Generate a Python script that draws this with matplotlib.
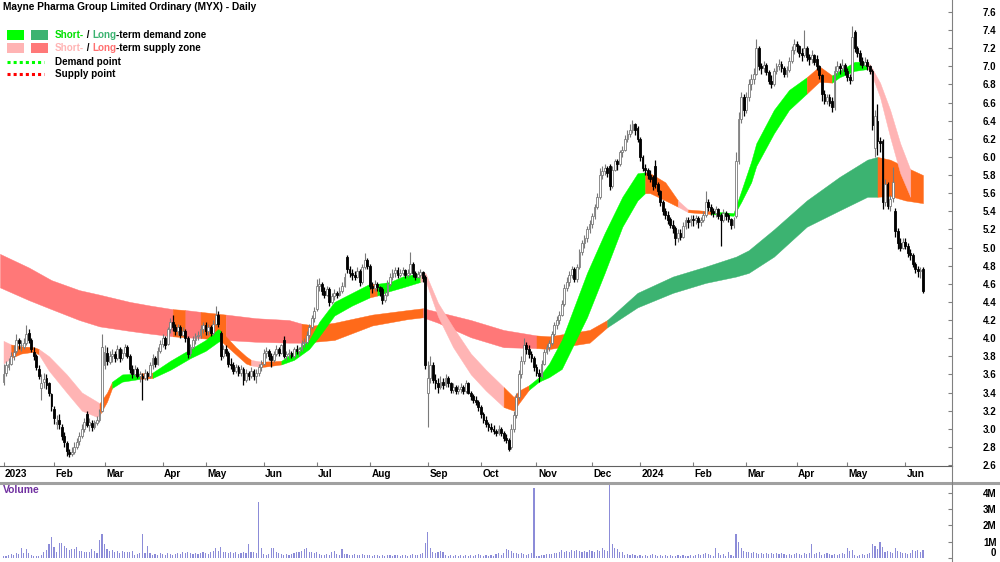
import numpy as np
import pandas as pd
import matplotlib
matplotlib.use("Agg")
import matplotlib.pyplot as plt
from matplotlib.lines import Line2D
from matplotlib.patches import Rectangle

plt.rcParams['font.family'] = ['Liberation Sans', 'DejaVu Sans']
plt.rcParams['font.weight'] = 'bold'

# ---------------- data ----------------
TITLE = "Mayne Pharma Group Limited Ordinary (MYX) - Daily"
START, END = "2023-01-03", "2024-06-13"
HOLIDAYS = ['2023-01-26', '2023-04-07', '2023-04-10', '2023-04-25', '2023-06-12',
            '2023-12-25', '2023-12-26', '2024-01-01', '2024-01-26', '2024-03-29',
            '2024-04-01', '2024-04-25', '2024-06-10']
MONTH_LABELS = {1: None, 2: 'Feb', 3: 'Mar', 4: 'Apr', 5: 'May', 6: 'Jun', 7: 'Jul',
                8: 'Aug', 9: 'Sep', 10: 'Oct', 11: 'Nov', 12: 'Dec'}

OPEN = [
 3.52,3.62,3.68,3.72,3.80,3.86,3.98,3.92,3.90,3.95,4.06,3.98,3.85,3.80,3.66,3.45,3.52,3.56,3.50,3.38,
 3.22,3.05,3.10,3.02,2.92,2.84,2.74,2.72,2.74,2.80,2.86,2.92,3.00,3.16,3.04,3.06,3.02,3.06,3.10,3.20,
 3.70,3.84,3.74,3.80,3.82,3.78,3.88,3.78,3.84,3.90,3.80,3.66,3.60,3.66,3.58,3.58,3.56,3.62,3.58,3.70,3.78,3.72,3.86,
 3.94,4.00,3.94,4.10,4.18,4.12,4.08,4.12,4.04,4.08,4.00,3.84,3.90,3.98,4.02,4.04,4.10,
 4.14,4.08,4.12,4.06,4.16,4.26,4.06,3.80,3.88,3.84,3.72,3.70,3.64,3.68,3.62,3.66,3.54,3.62,3.58,3.64,3.58,3.62,3.68,
 3.72,3.84,3.86,3.80,3.76,3.82,3.88,3.84,3.98,3.80,3.82,3.84,3.80,3.88,3.86,3.88,3.95,3.96,4.04,4.12,4.22,
 4.32,4.58,4.60,4.52,4.48,4.54,4.40,4.46,4.50,4.48,4.52,4.58,4.90,4.76,4.72,4.70,4.68,4.74,4.62,4.78,4.86,
 4.80,4.58,4.55,4.60,4.56,4.54,4.42,4.48,4.60,4.68,4.72,4.75,4.70,4.72,4.75,4.70,4.72,4.82,4.72,4.68,4.70,4.73,4.68,
 3.40,3.56,3.70,3.54,3.50,3.46,3.52,3.48,3.56,3.50,3.43,3.46,3.42,3.44,3.46,3.42,3.50,3.40,3.36,3.32,3.30,
 3.24,3.16,3.10,3.05,3.02,3.00,2.97,2.95,3.00,2.95,2.90,2.88,2.80,3.00,3.15,3.35,3.60,3.75,3.92,3.88,3.82,3.78,
 3.68,3.62,3.58,3.72,3.85,3.90,3.95,4.05,4.15,4.20,4.26,4.38,4.55,4.62,4.70,4.76,4.65,4.78,4.95,5.05,5.10,5.20,
 5.26,5.35,5.45,5.56,5.80,5.85,5.88,5.90,5.68,5.86,5.95,5.92,6.05,6.08,6.20,6.25,6.30,6.36,6.32,
 6.20,6.00,5.88,5.86,5.80,5.78,5.90,5.70,5.62,5.50,5.40,5.36,5.32,5.25,5.22,5.10,5.16,5.12,5.24,5.30,5.28,
 5.32,5.30,5.33,5.28,5.30,5.36,5.50,5.45,5.40,5.38,5.42,5.36,5.30,5.38,5.36,5.31,5.25,5.35,5.95,6.42,6.66,
 6.52,6.66,6.80,6.86,6.92,7.20,7.00,6.98,7.02,6.94,6.84,6.80,6.95,7.00,7.03,6.98,6.92,6.96,7.06,7.18,
 7.25,7.22,7.15,7.12,7.20,7.10,7.08,7.12,7.08,7.00,6.90,6.70,6.62,6.66,6.62,6.55,6.95,7.00,6.98,7.02,
 6.95,6.88,6.85,7.38,7.20,7.15,7.06,7.02,7.05,7.00,6.95,6.10,6.40,6.18,6.18,5.50,5.70,5.46,5.55,5.40,5.18,5.05,5.00,
 5.06,5.02,4.94,4.92,4.82,4.76,4.74,4.76]
HIGH = [
 3.72,3.75,3.78,3.85,3.92,4.05,4.00,3.98,4.00,4.15,4.10,4.00,3.90,3.82,3.70,3.60,3.62,3.60,3.52,3.40,
 3.25,3.15,3.16,3.05,2.96,2.86,2.78,2.80,2.85,2.90,2.96,3.05,3.12,3.20,3.12,3.10,3.10,3.14,3.22,4.05,
 3.92,3.90,3.86,3.88,3.86,3.92,3.90,3.88,3.94,3.92,3.82,3.70,3.70,3.68,3.64,3.62,3.66,3.64,3.74,3.82,3.80,3.90,3.98,
 4.05,4.02,4.12,4.22,4.25,4.16,4.16,4.14,4.12,4.10,4.02,3.94,4.02,4.06,4.08,4.14,4.18,
 4.18,4.16,4.14,4.20,4.35,4.30,4.08,3.92,3.92,3.86,3.78,3.74,3.72,3.70,3.70,3.68,3.66,3.64,3.68,3.66,3.66,3.72,3.76,
 3.88,3.90,3.88,3.84,3.86,3.92,3.90,3.94,4.02,3.86,3.88,3.86,3.90,3.92,3.90,3.98,4.00,4.08,4.16,4.26,4.34,
 4.65,4.66,4.62,4.56,4.58,4.56,4.50,4.54,4.52,4.56,4.62,4.72,4.92,4.80,4.76,4.74,4.78,4.76,4.82,4.94,4.88,
 4.82,4.62,4.64,4.62,4.58,4.56,4.52,4.64,4.72,4.76,4.78,4.78,4.76,4.78,4.76,4.76,4.95,4.84,4.74,4.74,4.76,4.74,4.70,
 3.75,3.80,3.74,3.60,3.56,3.58,3.56,3.60,3.58,3.52,3.50,3.48,3.48,3.50,3.48,3.54,3.52,3.42,3.38,3.36,3.32,
 3.26,3.18,3.14,3.08,3.06,3.04,3.00,3.04,3.02,2.97,2.94,2.90,3.05,3.20,3.40,3.65,3.80,4.00,3.96,3.92,3.86,3.80,
 3.72,3.66,3.76,3.88,3.94,3.98,4.08,4.18,4.24,4.30,4.42,4.60,4.68,4.74,4.80,4.78,4.82,4.98,5.08,5.14,5.24,5.30,
 5.38,5.48,5.60,5.88,5.90,5.92,5.90,5.92,5.90,5.98,5.98,6.08,6.12,6.24,6.30,6.36,6.41,6.38,6.34,
 6.22,6.02,5.92,5.88,5.86,5.80,5.97,5.72,5.64,5.52,5.44,5.40,5.34,5.30,5.24,5.20,5.20,5.28,5.34,5.34,5.36,
 5.36,5.36,5.35,5.34,5.40,5.62,5.54,5.48,5.44,5.46,5.44,5.38,5.42,5.40,5.38,5.33,5.34,6.05,6.50,6.72,6.70,
 6.72,6.86,6.92,6.98,7.30,7.22,7.04,7.06,7.04,6.96,6.90,6.98,7.04,7.08,7.06,7.00,7.00,7.10,7.22,7.30,
 7.28,7.24,7.20,7.40,7.22,7.14,7.18,7.14,7.12,7.02,6.92,6.74,6.70,6.70,6.66,7.00,7.06,7.04,7.08,7.04,
 6.98,6.92,7.45,7.40,7.22,7.18,7.10,7.10,7.08,7.02,6.97,6.52,6.58,6.22,6.20,5.76,5.72,5.58,5.89,5.44,5.22,5.10,5.10,
 5.10,5.05,4.98,4.94,4.84,4.80,4.78,4.78]
LOW = [
 3.48,3.58,3.65,3.70,3.76,3.84,3.88,3.86,3.88,3.92,3.95,3.85,3.76,3.65,3.55,3.32,3.45,3.44,3.36,3.20,
 3.05,3.00,3.00,2.88,2.80,2.70,2.69,2.70,2.72,2.78,2.82,2.90,2.96,3.02,2.98,2.98,3.00,3.04,3.08,3.18,
 3.66,3.70,3.72,3.74,3.74,3.76,3.74,3.76,3.80,3.78,3.62,3.56,3.58,3.56,3.52,3.32,3.54,3.54,3.56,3.66,3.68,3.70,3.84,
 3.90,3.88,3.92,4.06,4.08,4.04,4.04,4.00,4.02,3.96,3.78,3.80,3.88,3.94,3.98,4.00,4.06,
 4.04,4.04,4.02,4.04,4.14,4.12,3.76,3.78,3.80,3.68,3.66,3.60,3.62,3.58,3.58,3.48,3.52,3.54,3.56,3.54,3.50,3.58,3.64,
 3.70,3.78,3.76,3.68,3.74,3.80,3.80,3.82,3.78,3.76,3.78,3.78,3.78,3.82,3.80,3.86,3.90,3.94,4.00,4.10,4.18,
 4.30,4.52,4.48,4.44,4.46,4.36,4.38,4.42,4.44,4.46,4.50,4.56,4.72,4.68,4.64,4.64,4.66,4.58,4.60,4.76,4.76,
 4.54,4.50,4.52,4.52,4.46,4.38,4.40,4.46,4.58,4.64,4.68,4.66,4.68,4.70,4.66,4.68,4.70,4.68,4.64,4.66,4.68,4.62,3.66,
 3.02,3.50,3.50,3.44,3.40,3.44,3.44,3.46,3.46,3.40,3.40,3.38,3.38,3.40,3.38,3.40,3.38,3.32,3.28,3.26,3.20,
 3.12,3.06,3.02,2.98,2.96,2.94,2.92,2.93,2.92,2.86,2.84,2.75,2.78,2.96,3.12,3.32,3.56,3.72,3.82,3.78,3.74,3.64,
 3.58,3.52,3.56,3.70,3.82,3.86,3.92,4.02,4.10,4.16,4.24,4.36,4.52,4.58,4.66,4.62,4.62,4.76,4.92,5.00,5.06,5.16,
 5.22,5.32,5.42,5.54,5.76,5.80,5.78,5.64,5.66,5.84,5.86,5.90,6.00,6.06,6.16,6.22,6.26,6.24,6.16,
 5.96,5.84,5.80,5.76,5.72,5.64,5.66,5.58,5.46,5.36,5.32,5.26,5.22,5.16,5.03,5.06,5.08,5.10,5.20,5.22,5.24,
 5.24,5.26,5.22,5.24,5.28,5.34,5.40,5.36,5.34,5.34,5.32,5.02,5.28,5.30,5.28,5.20,5.22,5.33,5.92,6.38,6.45,
 6.48,6.62,6.74,6.80,6.90,6.96,6.92,6.94,6.90,6.80,6.76,6.78,6.92,6.96,6.94,6.88,6.88,6.94,7.04,7.14,
 7.16,7.10,7.06,7.10,7.06,7.02,7.04,7.02,6.96,6.86,6.62,6.58,6.58,6.56,6.50,6.52,6.90,6.92,6.94,6.90,
 6.84,6.80,6.84,7.16,7.10,7.02,6.98,7.00,6.96,6.92,6.30,6.00,6.02,6.05,5.42,5.46,5.42,5.40,5.50,5.12,4.98,4.96,4.98,
 4.98,4.90,4.86,4.78,4.72,4.68,4.66,4.50]
CLOSE = [
 3.60,3.70,3.72,3.80,3.85,3.98,3.95,3.92,3.95,4.05,3.98,3.88,3.80,3.68,3.58,3.50,3.55,3.48,3.40,3.25,
 3.12,3.08,3.05,2.92,2.85,2.75,2.72,2.74,2.80,2.85,2.92,3.00,3.08,3.04,3.08,3.02,3.08,3.10,3.18,3.90,
 3.85,3.75,3.80,3.82,3.78,3.88,3.78,3.84,3.90,3.80,3.66,3.60,3.66,3.58,3.60,3.56,3.62,3.58,3.70,3.78,3.72,3.86,3.94,
 4.00,3.92,4.10,4.18,4.12,4.08,4.12,4.04,4.08,4.00,3.82,3.90,3.98,4.02,4.04,4.10,4.14,
 4.08,4.12,4.06,4.16,4.26,4.16,3.80,3.88,3.84,3.72,3.70,3.64,3.68,3.62,3.66,3.54,3.62,3.58,3.64,3.58,3.62,3.68,3.72,
 3.84,3.86,3.80,3.76,3.82,3.88,3.84,3.92,3.80,3.82,3.84,3.80,3.88,3.86,3.88,3.95,3.96,4.04,4.12,4.22,4.30,
 4.58,4.60,4.52,4.48,4.54,4.40,4.46,4.50,4.48,4.52,4.58,4.68,4.76,4.72,4.70,4.68,4.74,4.62,4.78,4.86,4.80,
 4.58,4.55,4.60,4.56,4.52,4.42,4.48,4.60,4.68,4.72,4.75,4.70,4.72,4.75,4.70,4.72,4.82,4.72,4.68,4.71,4.73,4.66,3.70,
 3.56,3.70,3.54,3.50,3.46,3.52,3.48,3.56,3.50,3.43,3.46,3.42,3.44,3.46,3.42,3.50,3.40,3.36,3.32,3.30,3.24,
 3.16,3.10,3.05,3.02,3.00,2.97,2.95,3.00,2.95,2.90,2.88,2.78,3.00,3.15,3.35,3.60,3.75,3.92,3.88,3.82,3.78,3.68,
 3.62,3.58,3.72,3.85,3.90,3.95,4.05,4.15,4.20,4.26,4.38,4.55,4.62,4.70,4.76,4.65,4.78,4.95,5.05,5.10,5.20,5.26,
 5.35,5.45,5.56,5.80,5.85,5.88,5.82,5.68,5.86,5.95,5.92,6.05,6.08,6.20,6.25,6.30,6.36,6.30,6.20,
 6.00,5.88,5.86,5.80,5.76,5.68,5.70,5.62,5.50,5.40,5.36,5.30,5.25,5.22,5.10,5.16,5.12,5.24,5.30,5.28,5.32,
 5.30,5.33,5.28,5.30,5.36,5.50,5.45,5.40,5.38,5.42,5.35,5.30,5.38,5.35,5.31,5.25,5.30,5.95,6.42,6.66,6.52,
 6.66,6.80,6.86,6.92,7.20,7.00,6.98,7.02,6.94,6.84,6.80,6.95,7.00,7.03,6.98,6.92,6.96,7.06,7.18,7.25,
 7.22,7.15,7.12,7.20,7.10,7.08,7.12,7.05,7.00,6.90,6.70,6.62,6.66,6.60,6.55,6.95,7.00,6.98,7.02,6.95,
 6.88,6.85,7.32,7.20,7.15,7.06,7.02,7.05,7.00,6.95,6.35,6.45,6.18,6.15,5.50,5.70,5.46,5.54,5.72,5.18,5.05,5.00,5.06,
 5.02,4.94,4.92,4.82,4.76,4.74,4.75,4.52]
VOLUME_M = [
 0.10,0.15,0.20,0.25,0.20,0.30,0.25,0.60,0.30,0.55,0.30,0.20,0.15,0.10,0.15,0.20,0.40,0.50,0.85,1.27,
 0.65,0.40,0.90,0.90,0.75,0.60,0.50,0.55,0.55,0.65,0.45,0.45,0.40,0.40,0.35,0.55,0.45,0.30,1.10,1.50,
 0.85,0.55,0.45,0.50,0.40,0.45,0.30,0.45,0.35,0.35,0.40,0.45,0.20,0.25,0.30,1.50,0.30,0.75,0.30,0.20,0.25,0.20,0.30,
 0.25,0.20,0.30,0.25,0.20,0.25,0.30,0.25,0.35,0.30,0.35,0.30,0.25,0.30,0.25,0.30,0.35,
 0.30,0.25,0.35,0.45,0.60,0.45,0.65,0.40,0.35,0.30,0.40,0.30,0.35,0.25,0.30,0.35,0.30,0.85,0.40,0.35,0.30,3.40,0.60,
 0.25,0.20,0.25,0.60,0.60,0.40,0.30,0.25,0.20,0.25,0.20,0.25,0.30,0.35,0.40,0.45,0.55,0.60,0.40,0.35,0.30,
 0.35,0.25,0.20,0.20,0.25,0.20,0.35,0.45,0.25,0.20,0.55,0.25,0.25,0.20,0.20,0.25,0.20,0.20,0.25,0.20,0.20,
 0.20,0.15,0.20,0.20,0.15,0.20,0.15,0.20,0.20,0.15,0.20,0.20,0.15,0.20,0.20,0.15,0.20,0.25,0.20,0.20,0.25,0.30,0.95,
 1.60,0.60,0.40,0.30,0.35,0.45,0.40,0.20,0.15,0.20,0.15,0.20,0.15,0.20,0.15,0.20,0.15,0.20,0.15,0.20,0.25,
 0.20,0.15,0.20,0.15,0.20,0.15,0.25,0.30,0.20,0.30,0.55,0.50,0.45,0.30,0.30,0.25,0.30,0.25,0.20,0.25,0.30,4.30,
 0.15,0.15,0.20,0.20,0.25,0.25,0.25,0.30,0.30,0.35,0.50,0.40,0.45,0.40,0.50,0.45,0.50,0.45,0.40,0.45,0.40,0.50,
 0.45,0.40,0.50,0.45,0.60,0.50,0.45,4.45,0.85,0.60,0.55,0.40,0.35,0.20,0.25,0.20,0.25,0.20,0.15,
 0.20,0.15,0.20,0.15,0.20,0.25,0.20,0.15,0.20,0.15,0.20,0.15,0.20,0.15,0.15,0.20,0.15,0.20,0.15,0.15,0.20,
 0.15,0.20,0.25,0.20,0.25,0.30,0.25,0.20,0.15,0.60,0.30,0.20,0.25,0.15,0.35,0.20,0.15,1.50,1.00,0.60,0.45,
 0.40,0.35,0.30,0.35,0.30,0.25,0.30,0.25,0.30,0.25,0.30,0.25,0.30,0.25,0.30,0.25,0.20,0.25,0.20,0.25,
 0.30,0.25,0.20,0.30,0.25,0.30,0.85,0.25,0.30,0.35,0.20,0.25,0.30,0.25,0.20,0.25,0.20,0.25,0.30,0.25,
 0.60,0.45,0.50,0.20,0.15,0.20,0.25,0.20,0.25,0.30,0.85,0.75,0.55,1.00,0.70,0.40,0.45,0.35,0.30,0.60,0.45,0.35,0.30,
 0.30,0.25,0.30,0.50,0.45,0.50,0.35,0.50]

# short-term zone: bar index, upper edge, lower edge, colour code of the stretch that follows
ST_IDX = [0, 3, 7, 12, 14, 18, 25, 31, 37, 38, 41, 43, 47, 54, 59, 66, 74, 80, 85, 86, 92, 96, 98, 102,
          110, 115, 121, 125, 131, 138, 145, 148, 153, 158, 165, 167, 172, 178, 185, 191, 198, 202, 204,
          208, 212, 216, 221, 231, 238, 245, 251, 254, 256, 262, 267, 271, 280, 289, 292, 296, 298, 305,
          311, 318, 323, 328, 331, 337, 342, 343, 347, 351, 355, 359, 364]
ST_HI = [3.97, 3.93, 3.91, 3.90, 3.88, 3.80, 3.60, 3.40, 3.30, 3.28, 3.40, 3.52, 3.60, 3.61, 3.62, 3.75,
         3.88, 3.98, 4.10, 4.08, 3.90, 3.80, 3.76, 3.74, 3.75, 3.85, 3.98, 4.18, 4.40, 4.50, 4.60, 4.60,
         4.62, 4.68, 4.72, 4.72, 4.39, 4.12, 3.83, 3.65, 3.46, 3.35, 3.42, 3.48, 3.57, 3.72, 3.98, 4.72,
         5.16, 5.56, 5.82, 5.83, 5.82, 5.72, 5.52, 5.42, 5.40, 5.38, 5.62, 5.95, 6.15, 6.52, 6.74, 6.88,
         7.00, 6.90, 6.95, 7.05, 7.05, 7.02, 6.82, 6.52, 6.15, 5.86, 5.67]
ST_LO = [3.72, 3.78, 3.83, 3.85, 3.82, 3.64, 3.40, 3.20, 3.13, 3.15, 3.30, 3.45, 3.52, 3.55, 3.56, 3.65,
         3.78, 3.86, 3.96, 3.97, 3.82, 3.72, 3.70, 3.68, 3.71, 3.76, 3.88, 4.02, 4.25, 4.36, 4.45, 4.47,
         4.52, 4.56, 4.62, 4.64, 4.24, 3.90, 3.60, 3.42, 3.24, 3.20, 3.28, 3.43, 3.52, 3.57, 3.66, 4.23,
         4.72, 5.23, 5.52, 5.60, 5.60, 5.52, 5.45, 5.39, 5.37, 5.35, 5.50, 5.72, 5.90, 6.26, 6.52, 6.70,
         6.83, 6.82, 6.88, 6.95, 6.97, 6.96, 6.66, 6.22, 5.82, 5.56, 5.27]
ST_COL = "POOOPPPPPOOGGOGGGGGOOOPOGGGGGGOGGGPPPPPPOOOGGGGGGGGOOOPOGGGGGGGOOGGGPPPPP"

# long-term zone
LT_IDX = [-1.4, 10, 19, 30, 38, 50, 58, 67, 72, 78, 88, 100, 113, 118, 123, 131, 146, 160, 166, 172,
          185, 198, 211, 216, 232, 239, 251, 265, 278, 290, 295, 305, 318, 331, 342, 346, 351, 357, 364]
LT_HI = [4.93, 4.78, 4.64, 4.53, 4.48, 4.40, 4.36, 4.32, 4.31, 4.29, 4.26, 4.22, 4.20, 4.16, 4.14,
         4.17, 4.26, 4.31, 4.33, 4.29, 4.20, 4.09, 4.03, 4.02, 4.09, 4.20, 4.50, 4.68, 4.79, 4.90,
         4.97, 5.20, 5.52, 5.78, 5.97, 6.00, 5.97, 5.89, 5.80]
LT_LO = [4.56, 4.42, 4.32, 4.20, 4.13, 4.08, 4.05, 4.02, 4.01, 4.00, 3.98, 3.96, 3.95, 3.95, 3.96,
         3.98, 4.14, 4.21, 4.23, 4.17, 4.01, 3.90, 3.89, 3.88, 3.95, 4.12, 4.34, 4.50, 4.61, 4.68,
         4.72, 4.90, 5.23, 5.41, 5.56, 5.56, 5.57, 5.52, 5.49]
LT_COL = "PPPPPPPOPOPPPOOOOOPPPPOOOGGGGGGGGGGOOO"

PRICE_TICKS = [round(2.6 + 0.2 * k, 1) for k in range(26)]
VOL_TICKS = [0, 1, 2, 3, 4]
VOL_LABELS = ['0', '1M', '2M', '3M', '4M']

# ---------------- styling ----------------
ST_COLORS = {'G': '#00FF00', 'P': '#FFB4B4', 'O': '#FF6A1A'}
LT_COLORS = {'G': '#3CB371', 'P': '#FF7878', 'O': '#FF6A1A'}

W, H = 1000, 562
fig = plt.figure(figsize=(10, 5.62), dpi=100)
fig.patch.set_facecolor('white')


def fx(x):
    return x / W


def fy(y):
    return 1 - y / H


axp = fig.add_axes([0, fy(466), fx(952), 466 / H])
axv = fig.add_axes([0, fy(561), fx(952), 77 / H])

dates = [d for d in pd.bdate_range(START, END) if d.strftime('%Y-%m-%d') not in HOLIDAYS]
n = len(dates)
idx = np.arange(n)
O = np.array(OPEN); Hh = np.array(HIGH); L = np.array(LOW); C = np.array(CLOSE)
V = np.array(VOLUME_M)
assert len(O) == len(Hh) == len(L) == len(C) == len(V) == n, (len(O), len(Hh), len(L), len(C), len(V), n)


def draw_band(ax, I, HI, LO, COL, cmap, z):
    I = np.array(I, float); HI = np.array(HI); LO = np.array(LO)
    j = 0
    while j < len(COL):
        k = j
        while k + 1 < len(COL) and COL[k + 1] == COL[j]:
            k += 1
        ax.fill_between(I[j:k + 2], LO[j:k + 2], HI[j:k + 2], color=cmap[COL[j]],
                        lw=0.3, edgecolor=cmap[COL[j]], zorder=z)
        j = k + 1


draw_band(axp, LT_IDX, LT_HI, LT_LO, LT_COL, LT_COLORS, 1)
draw_band(axp, ST_IDX, ST_HI, ST_LO, ST_COL, ST_COLORS, 2)

up = C >= O
dn = ~up
axp.vlines(idx[up], L[up], Hh[up], color='#7a7a7a', lw=0.8, zorder=3)
axp.vlines(idx[dn], L[dn], Hh[dn], color='black', lw=0.9, zorder=3)
axp.bar(idx[up], np.maximum(C[up] - O[up], 0.004), bottom=O[up], width=0.72,
        color='white', edgecolor='#7a7a7a', lw=0.6, zorder=4)
axp.bar(idx[dn], O[dn] - C[dn], bottom=C[dn], width=0.72,
        color='black', edgecolor='black', lw=0.6, zorder=4)

xl = (-1.386, 375.5)
axp.set_xlim(*xl)
axp.set_ylim(2.589, 7.732)
axv.set_xlim(*xl)
axv.set_ylim(-0.18, 4.53)

# price axis
axp.yaxis.tick_right()
axp.set_yticks(PRICE_TICKS)
axp.set_yticklabels([f"{t:.1f}" for t in PRICE_TICKS])
axp.tick_params(axis='y', direction='in', length=3, pad=32, labelsize=7, color='#808080')
for lbl in axp.get_yticklabels():
    lbl.set_ha('right')
    lbl.set_fontweight('bold')
for s in ['top', 'left']:
    axp.spines[s].set_visible(False)
axp.spines['right'].set_color('#808080')
axp.spines['bottom'].set_color('#606060')

# month ticks
month_pos, month_lab = [], []
for k, d in enumerate(dates):
    if k == 0 or d.month != dates[k - 1].month:
        month_pos.append(k)
        month_lab.append(str(d.year) if d.month == 1 else MONTH_LABELS[d.month])
axp.set_xticks(month_pos)
axp.set_xticklabels([''] * len(month_pos))
axp.tick_params(axis='x', direction='in', length=3, color='#808080')
for p, lab in zip(month_pos, month_lab):
    px = axp.transData.transform((p, 3.0))[0] * W / fig.bbox.width
    fig.text(fx(px + 1.5), fy(474), lab, ha='left', va='center', fontsize=7.2, fontweight='bold')

# volume
axv.bar(idx, V, width=0.45, color='#8C8CD8', zorder=2)
axv.yaxis.tick_right()
axv.set_yticks(VOL_TICKS)
axv.set_yticklabels(VOL_LABELS)
axv.tick_params(axis='y', direction='in', length=3, pad=32, labelsize=7, color='#808080')
for k, lbl in enumerate(axv.get_yticklabels()):
    lbl.set_ha('right')
    lbl.set_fontweight('bold')
    if k == 0:
        lbl.set_va('bottom')
axv.set_xticks([])
for s in ['top', 'left', 'bottom']:
    axv.spines[s].set_visible(False)
axv.spines['right'].set_color('#808080')
fig.text(fx(3), fy(490), 'Volume', color='#7030A0', fontsize=7.5, fontweight='bold', va='center')

# separators
fig.add_artist(Line2D([0, 1], [fy(482.5), fy(482.5)], color='#A0A0A0', lw=2.2))
fig.add_artist(Line2D([fx(952), fx(952)], [fy(466), fy(484)], color='#808080', lw=0.8))

# title
fig.text(fx(3), fy(7), TITLE, fontsize=7.3, fontweight='bold', va='center')

# legend
for (x0, y0, c) in [(7, 30, ST_COLORS['G']), (31, 30, LT_COLORS['G']),
                    (7, 43, ST_COLORS['P']), (31, 43, LT_COLORS['P'])]:
    fig.add_artist(Rectangle((fx(x0), fy(y0 + 10)), 17 / W, 10 / H, transform=fig.transFigure,
                             facecolor=c, edgecolor='none'))
fig.add_artist(Line2D([fx(7), fx(44)], [fy(62), fy(62)], color='#00FF00', lw=2.2, ls=(0, (1, 1))))
fig.add_artist(Line2D([fx(7), fx(44)], [fy(74), fy(74)], color='#FF0000', lw=2.2, ls=(0, (1, 1))))

r = fig.canvas.get_renderer()


def seq_text(x, y, parts):
    for s, c in parts:
        t = fig.text(fx(x), fy(y), s, color=c, fontsize=7.1, fontweight='bold', va='center', ha='left')
        bb = t.get_window_extent(r)
        x = bb.x1 * W / fig.bbox.width


seq_text(55, 35, [("Short-", '#00E000'), (" / ", 'black'), ("Long", '#3CB371'),
                  ("-term demand zone", 'black')])
seq_text(55, 48, [("Short-", '#FFB4B4'), (" / ", 'black'), ("Long", '#FF7070'),
                  ("-term supply zone", 'black')])
seq_text(55, 62, [("Demand point", 'black')])
seq_text(55, 74, [("Supply point", 'black')])

fig.savefig('out.png', dpi=100, facecolor='white')
